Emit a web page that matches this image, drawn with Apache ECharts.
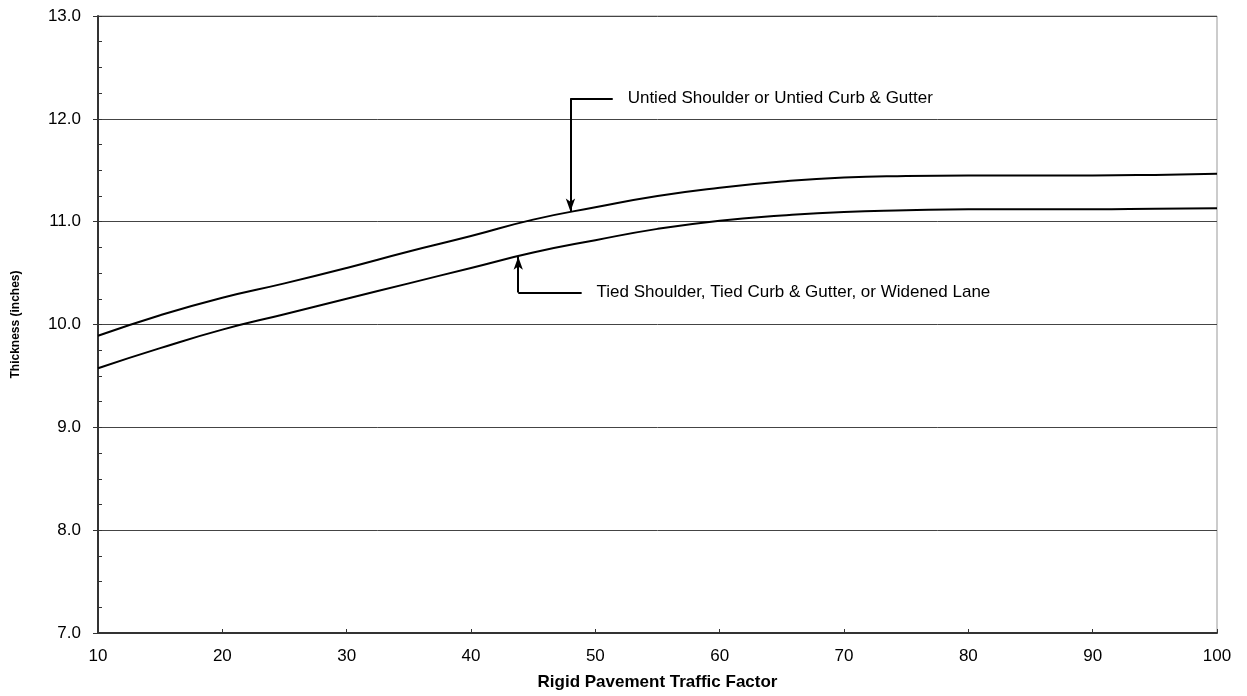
<!DOCTYPE html>
<html>
<head>
<meta charset="utf-8">
<script src="https://cdn.jsdelivr.net/npm/echarts@6/dist/echarts.min.js"></script>
<style>
html,body{margin:0;padding:0;background:#fff;}
#chart{width:1247px;height:696px;}
</style>
</head>
<body>
<div id="chart"></div>
<script>
// Data
const xValues = [10, 15, 20, 25, 30, 35, 40, 45, 50, 55, 60, 65, 70, 75, 80, 85, 90, 95, 100];
const untiedValues = [9.89, 10.09, 10.26, 10.40, 10.55, 10.71, 10.86, 11.02, 11.14, 11.25, 11.33, 11.39, 11.43, 11.445, 11.45, 11.45, 11.45, 11.455, 11.465];
const tiedValues = [9.575, 9.77, 9.95, 10.10, 10.25, 10.40, 10.55, 10.70, 10.82, 10.93, 11.01, 11.06, 11.095, 11.11, 11.12, 11.12, 11.12, 11.125, 11.13];
const yTicks = [7, 8, 9, 10, 11, 12, 13];
const xTicks = [10, 20, 30, 40, 50, 60, 70, 80, 90, 100];

// Annotations (data coordinates)
const untiedLabel = 'Untied Shoulder or Untied Curb & Gutter';
const untiedTip = [48, 11.10];
const untiedElbow = [48, 12.2];
const untiedEnd = [51.4, 12.2];
const untiedTextAt = [52.6, 12.2];

const tiedLabel = 'Tied Shoulder, Tied Curb & Gutter, or Widened Lane';
const tiedTip = [43.8, 10.66];
const tiedElbow = [43.8, 10.31];
const tiedEnd = [48.9, 10.31];
const tiedTextAt = [50.1, 10.31];

const pair = (xs, ys) => xs.map((x, i) => [x, ys[i]]);
const FONT = 'Liberation Sans, Arial, sans-serif';

function annotations(tip, elbow, end, textAt, text) {
  return {
    markLine: {
      silent: true,
      animation: false,
      label: { show: false },
      lineStyle: { color: '#000', width: 2, type: 'solid' },
      emphasis: { disabled: true },
      data: [
        [{ coord: end, symbol: 'none' }, { coord: elbow, symbol: 'none' }],
        [{ coord: elbow, symbol: 'none' }, { coord: tip, symbol: 'arrow', symbolSize: [7, 13] }]
      ]
    },
    markPoint: {
      silent: true,
      animation: false,
      symbol: 'circle',
      symbolSize: 0,
      data: [{ coord: textAt }],
      label: {
        show: true,
        position: 'right',
        distance: 0,
        formatter: text,
        color: '#000',
        fontFamily: FONT,
        fontSize: 17
      }
    }
  };
}

const chart = echarts.init(document.getElementById('chart'), null, { renderer: 'canvas' });
chart.setOption({
  animation: false,
  backgroundColor: '#fff',
  grid: {
    left: 98, right: 30, top: 16, bottom: 62,
    show: true, borderColor: '#999', borderWidth: 1, backgroundColor: 'transparent'
  },
  xAxis: {
    type: 'value',
    min: xTicks[0], max: xTicks[xTicks.length - 1], interval: 10,
    name: 'Rigid Pavement Traffic Factor',
    nameLocation: 'middle',
    nameGap: 41,
    nameTextStyle: { fontFamily: FONT, fontSize: 17, fontWeight: 'bold', color: '#000' },
    axisLine: { show: true, lineStyle: { color: '#333', width: 2 } },
    axisTick: { show: true, inside: true, length: 4, lineStyle: { color: '#333', width: 1 } },
    axisLabel: { fontFamily: FONT, fontSize: 17, color: '#000', margin: 15 },
    splitLine: { show: false }
  },
  yAxis: [{
    type: 'value',
    min: yTicks[0], max: yTicks[yTicks.length - 1], interval: 1,
    name: 'Thickness (inches)',
    nameLocation: 'middle',
    nameGap: 76,
    nameRotate: 90,
    nameTextStyle: { fontFamily: FONT, fontSize: 12, fontWeight: 'bold', color: '#000' },
    axisLine: { show: true, lineStyle: { color: '#333', width: 2 } },
    axisTick: { show: true, inside: false, length: 5, lineStyle: { color: '#333', width: 1 } },
    axisLabel: { fontFamily: FONT, fontSize: 17, color: '#000', margin: 17, formatter: v => v.toFixed(1) },
    splitLine: { show: true, lineStyle: { color: '#444', width: 1 } }
  }, {
    type: 'value',
    position: 'left',
    min: yTicks[0], max: yTicks[yTicks.length - 1], interval: 0.25,
    axisLine: { show: false },
    axisTick: { show: true, inside: true, length: 4, lineStyle: { color: '#333', width: 1 } },
    axisLabel: { show: false },
    splitLine: { show: false }
  }],
  series: [
    Object.assign({
      name: 'Untied',
      type: 'line',
      data: pair(xValues, untiedValues),
      smooth: 0.5,
      showSymbol: false,
      symbol: 'none',
      lineStyle: { color: '#000', width: 2 },
      emphasis: { disabled: true }
    }, annotations(untiedTip, untiedElbow, untiedEnd, untiedTextAt, untiedLabel)),
    Object.assign({
      name: 'Tied',
      type: 'line',
      data: pair(xValues, tiedValues),
      smooth: 0.5,
      showSymbol: false,
      symbol: 'none',
      lineStyle: { color: '#000', width: 2 },
      emphasis: { disabled: true }
    }, annotations(tiedTip, tiedElbow, tiedEnd, tiedTextAt, tiedLabel))
  ]
});
</script>
</body>
</html>
